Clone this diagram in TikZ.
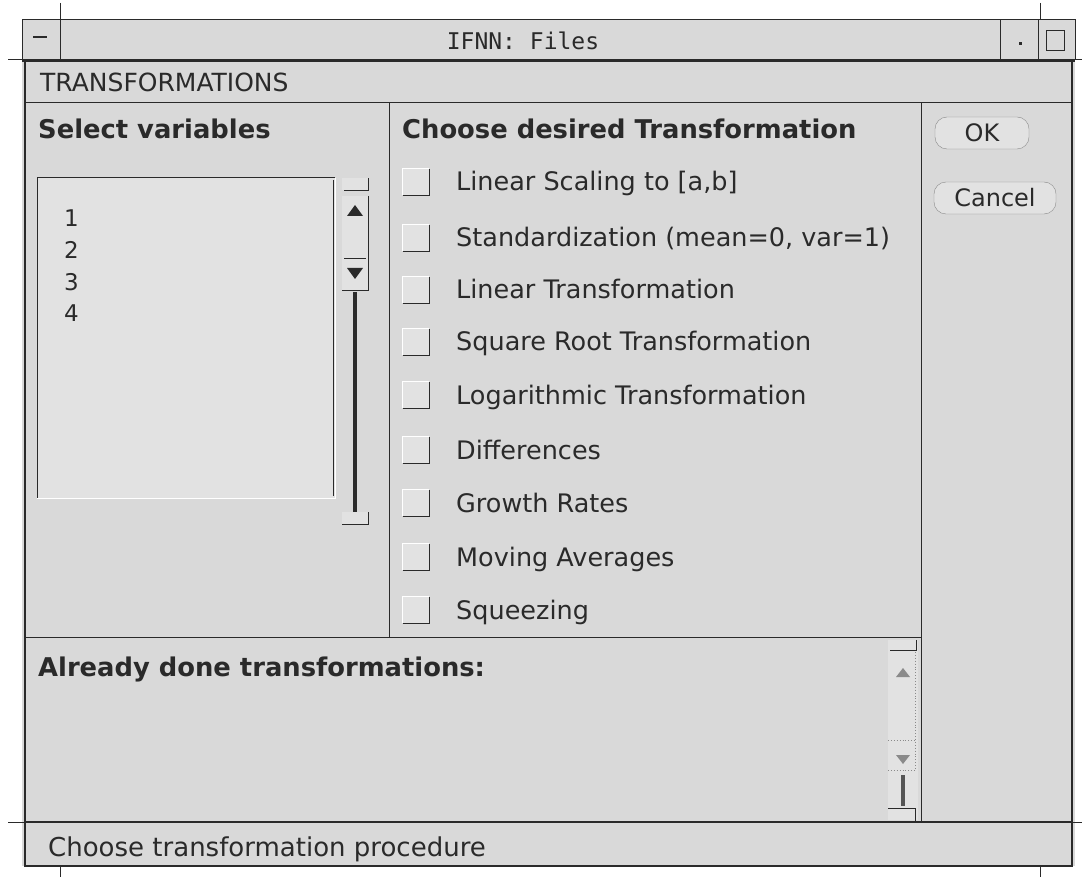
\documentclass[tikz,border=0pt]{standalone}
\usepackage{fontspec}
\setmainfont{DejaVu Sans}
\newfontfamily\monofont{DejaVu Sans Mono}
\usetikzlibrary{positioning}
\definecolor{bg}{HTML}{D9D9D9}
\definecolor{bgl}{HTML}{E2E2E2}
\definecolor{ln}{HTML}{2A2A2A}
\definecolor{mid}{HTML}{8A8A8A}
\tikzset{
  txt/.style={anchor=base west, inner sep=0pt, text=ln, font=\fontsize{25.5}{28}\selectfont},
  btxt/.style={txt, font=\fontsize{25.8}{28}\selectfont\bfseries},
  frame/.style={draw=ln, line width=1.6pt},
  thin/.style={draw=ln, line width=1pt},
  chk/.style={draw=none, fill=bgl, minimum width=26pt, minimum height=26pt, inner sep=0pt},
  btn/.style={draw=mid, rounded corners=12pt, fill=bgl, inner sep=0pt, minimum height=32pt, font=\fontsize{24}{26}\selectfont, text=ln},
}
\begin{document}
\begin{tikzpicture}[x=1pt,y=-1pt]
\useasboundingbox (0,0) rectangle (1082,877);
\fill[white] (0,0) rectangle (1082,877);
% window body
\fill[bg] (22,20) rectangle (1075,866);
% title bar
\draw[thin] (22,20) rectangle (1075,60);
\draw[thin] (60,20) -- (60,60);
\draw[thin] (1000,20) -- (1000,60);
\draw[thin] (1038,20) -- (1038,60);
\node[font=\monofont\fontsize{23}{26}\selectfont, text=ln] (title) at (523,41) {IFNN: Files};
\draw[ln, line width=1.5pt] (33,37) -- (47,37);
\fill[ln] (1019,42) rectangle (1022,45);
\draw[ln, line width=0.8pt] (1046,30) rectangle (1064,50);
% corner ticks
\draw[ln, line width=1pt] (60,3) -- (60,20);
\draw[ln, line width=1pt] (1040,3) -- (1040,20);
\draw[ln, line width=1pt] (8,60) -- (22,60);
\draw[ln, line width=1pt] (1075,60) -- (1082,60);
\draw[ln, line width=1pt] (8,822) -- (25,822);
\draw[ln, line width=1pt] (1072,822) -- (1082,822);
\draw[ln, line width=1pt] (60,866) -- (60,877);
\draw[ln, line width=1pt] (1040,866) -- (1040,877);
% main frame
\draw[frame] (22,61) -- (1075,61);
\draw[frame] (25,61) -- (25,866) -- (1072,866) -- (1072,61);
% header bar
\node[txt, font=\fontsize{25}{28}\selectfont] (hdr) at (40,92) {TRANSFORMATIONS};
\draw[thin] (25,103) -- (1072,103);
% panels
\draw[thin] (389,103) -- (389,637);
\draw[thin] (921,103) -- (921,822);
\draw[thin] (25,637) -- (921,637);
\draw[frame] (25,822) -- (1072,822);
% left panel
\node[btxt] (selvar) at (38,139) {Select variables};
\node[fill=bgl, draw=none, minimum width=298pt, minimum height=320pt, anchor=north west, inner sep=0pt] (list) at (37,178) {};
\draw[ln, line width=1pt] (37,498) -- (37,178) -- (335,178);
\draw[white, line width=1pt] (335,178) -- (335,498) -- (37,498);
\draw[ln, line width=1pt] (333,180) -- (333,496);
\foreach \t/\yy in {1/227,2/259,3/291,4/322}{
  \node[txt, font=\fontsize{23}{26}\selectfont] (item\t) at (64,\yy) {\t};
}
% list scrollbar
\node[draw=none, fill=bgl, minimum width=26pt, minimum height=12pt, anchor=north west, inner sep=0pt] (sbtop) at (342,178) {};
\draw[ln, line width=0.9pt] (344,190) -- (368,190) -- (368,178);
\node[fill=bgl, minimum width=26pt, minimum height=94pt, anchor=north west, inner sep=0pt] (sbarr) at (342,196) {};
\draw[ln, line width=0.9pt] (368,196) -- (368,290) -- (342,290);
\draw[ln, line width=0.9pt] (344,258) -- (366,258);
\fill[ln] (347,216) -- (355,205) -- (363,216) -- cycle;
\fill[ln] (347,268) -- (355,279) -- (363,268) -- cycle;
\draw[ln, line width=4pt] (355,292) -- (355,512);
\node[fill=bgl, minimum width=26pt, minimum height=12pt, anchor=north west, inner sep=0pt] (sbbot) at (342,512) {};
\draw[ln, line width=0.9pt] (368,512) -- (368,524) -- (342,524);
% middle panel
\node[btxt] (choose) at (402,139) {Choose desired Transformation};
\foreach \i/\yy/\lab in {1/182/{Linear Scaling to [a,b]},
  2/238/{Standardization (mean=0, var=1)},
  3/290/{Linear Transformation},
  4/342/{Square Root Transformation},
  5/395/{Logarithmic Transformation},
  6/450/{Differences},
  7/503/{Growth Rates},
  8/557/{Moving Averages},
  9/610/{Squeezing}}{
  \node[chk] (cb\i) at (416,\yy) {};
  \draw[ln, line width=0.9pt] (cb\i.south west) -- (cb\i.south east) -- (cb\i.north east);
  \draw[white, line width=0.9pt] (cb\i.south west) -- (cb\i.north west) -- (cb\i.north east);
  \node[txt] (lab\i) at (456,\yy+9) {\lab};
}
% right panel buttons
\node[btn, minimum width=94pt] (ok) at (982,133) {OK};
\node[btn, minimum width=122pt] (cancel) at (995,198) {Cancel};
% bottom panel
\node[btxt] (done) at (38,676) {Already done transformations:};
\node[fill=bgl, minimum width=30pt, minimum height=180pt, anchor=north west, inner sep=0pt] (sb2) at (888,640) {};
\draw[ln, line width=0.9pt] (890,650) -- (916,650) -- (916,640);
\draw[mid, line width=0.9pt, dotted] (915,652) -- (915,770);
\draw[mid, line width=0.9pt, dotted] (888,740) -- (915,740);
\draw[mid, line width=0.9pt, dotted] (888,770) -- (915,770);
\fill[mid] (896,677) -- (903,668) -- (910,677) -- cycle;
\fill[mid] (896,755) -- (903,764) -- (910,755) -- cycle;
\draw[ln!80, line width=4pt] (903,775) -- (903,806);
\draw[ln, line width=0.9pt] (888,808) -- (915,808) -- (915,822);
% status bar
\node[txt, font=\fontsize{26}{28}\selectfont] (status) at (48,856) {Choose transformation procedure};
\end{tikzpicture}
\end{document}
